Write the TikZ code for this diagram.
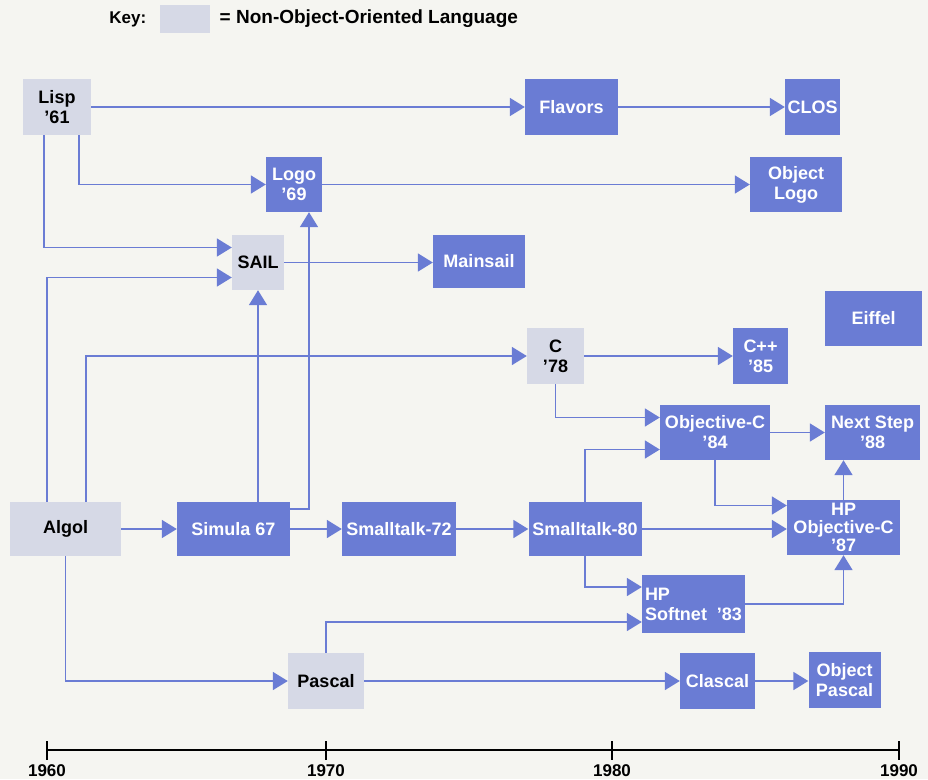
\documentclass[tikz,border=0pt]{standalone}
\usepackage{fontspec}
\setmainfont{Liberation Sans}
\usepackage{tikz}
\usetikzlibrary{arrows.meta, positioning}

\definecolor{oolblue}{RGB}{106,124,212}
\definecolor{nonoo}{RGB}{214,217,230}
\definecolor{paper}{RGB}{245,245,241}

\begin{document}
\begin{tikzpicture}[x=1pt, y=-1pt,
  lang/.style={fill=oolblue, text=white, inner sep=0pt, align=center,
               font=\fontsize{18}{20}\selectfont\bfseries},
  plain/.style={lang, fill=nonoo, text=black},
  wh/.style 2 args={minimum width=#1pt, minimum height=#2pt},
  arr/.style={-{Triangle[length=15pt, width=18pt]}, oolblue, line width=1.8pt},
  yr/.style={font=\fontsize{17}{20}\selectfont\bfseries}
]
\fill[paper] (0,0) rectangle (928,779);
\useasboundingbox (0,0) rectangle (928,779);

% Key
\node[plain, wh={50}{28}] (keybox) at (185,19) {};
\node[yr, left=10pt of keybox] {Key:};
\node[yr, font=\fontsize{19}{20}\selectfont\bfseries, right=6pt of keybox]
  {= Non-Object-Oriented Language};

% Lisp family (top)
\node[plain, wh={68}{56}]  (lisp)    at (57,107)    {Lisp\\’61};
\node[lang, wh={93}{56}]   (flavors) at (571.5,107) {Flavors};
\node[lang, wh={55}{56}]   (clos)    at (812.5,107) {CLOS};
\node[lang, wh={56}{55}]   (logo)    at (294,184.5) {Logo\\’69};
\node[lang, wh={92}{55}]   (ologo)   at (796,184.5) {Object\\Logo};
\node[plain, wh={52}{55}]  (sail)    at (258,262.5) {SAIL};
\node[lang, wh={92}{53}]   (mainsail) at (479,261.5) {Mainsail};
\node[lang, wh={97}{55}]   (eiffel)  at (873.5,318) {Eiffel};

% C family (middle)
\node[plain, wh={57}{56}]  (c)       at (555.5,356) {C\\’78};
\node[lang, wh={55}{56}]   (cpp)     at (760.5,356) {C++\\’85};
\node[lang, wh={110}{55}]  (objc)    at (715,432.5) {Objective-C\\’84};
\node[lang, wh={95}{55}]   (next)    at (872.5,432.5) {Next Step\\’88};

% Algol / Simula / Smalltalk row
\node[plain, wh={111}{54}] (algol)   at (65.5,529)  {Algol};
\node[lang, wh={113}{54}]  (simula)  at (233.5,529) {Simula 67};
\node[lang, wh={114}{54}]  (st72)    at (399,529)   {Smalltalk-72};
\node[lang, wh={113}{54}]  (st80)    at (585,529)   {Smalltalk-80};
\node[lang, wh={113}{55}, font=\fontsize{18}{18}\selectfont\bfseries]
                           (hpobjc)  at (843.5,527.5) {HP\\Objective-C\\’87};
\node[lang, wh={103}{58}, align=left] (softnet) at (693.5,604) {HP\\Softnet~ ’83};

% Pascal row (bottom)
\node[plain, wh={76}{56}]  (pascal)  at (326,681)   {Pascal};
\node[lang, wh={75}{56}]   (clascal) at (717.5,681) {Clascal};
\node[lang, wh={72}{56}]   (opascal) at (844.5,680) {Object\\Pascal};

% Arrows
% from Lisp
\draw[arr] (lisp.east) -- (flavors.west);
\draw[arr] (flavors.east) -- (clos.west);
\draw[arr] ([xshift=-12pt]lisp.south east) |- (logo.west);
\draw[arr] ([xshift=21pt]lisp.south west) |- ([yshift=15pt]sail.west);
\draw[arr] (logo.east) -- (ologo.west);
\draw[arr] (sail.east) -- (sail.east -| mainsail.west);

% from Algol
\draw[arr] ([xshift=37pt]algol.north west) |- ([yshift=-15pt]sail.west);
\draw[arr] ([xshift=76pt]algol.north west) |- (c.west);
\draw[arr] (algol.east) -- (simula.west);
\draw[arr] (algol.south) |- (pascal.west);

% from Simula
\draw[arr] (sail.south |- simula.north) -- (sail.south);
\draw[arr] ([yshift=-7pt]simula.north east) -| ([xshift=15pt]logo.south);
\draw[arr] (simula.east) -- (st72.west);
\draw[arr] (st72.east) -- (st80.west);

% from C and Smalltalk-80
\draw[arr] (c.east) -- (cpp.west);
\draw[arr] (c.south) |- ([yshift=15pt]objc.west);
\draw[arr] (st80.north) |- ([yshift=-17pt]objc.west);
\draw[arr] (objc.east) -- (next.west);
\draw[arr] (objc.south) |- ([yshift=22pt]hpobjc.west);
\draw[arr] (st80.east) -- (st80.east -| hpobjc.west);
\draw[arr] (st80.south) |- ([yshift=17pt]softnet.west);
\draw[arr] (hpobjc.north) -- (hpobjc.north |- next.south);
\draw[arr] (softnet.east) -| (hpobjc.south);

% from Pascal
\draw[arr] (pascal.north) |- ([yshift=-18pt]softnet.west);
\draw[arr] (pascal.east) -- (clascal.west);
\draw[arr] (clascal.east) -- (clascal.east -| opascal.west);

% Time axis
\draw[line width=1.5pt] (47,750) -- (899,750);
\foreach \yrx/\yrlabel in {47/1960, 326/1970, 612/1980, 899/1990} {
  \draw[line width=1.5pt] (\yrx,741) -- (\yrx,760);
  \node[yr] (y\yrlabel) at (\yrx,771) {\yrlabel};
}

\end{tikzpicture}
\end{document}
